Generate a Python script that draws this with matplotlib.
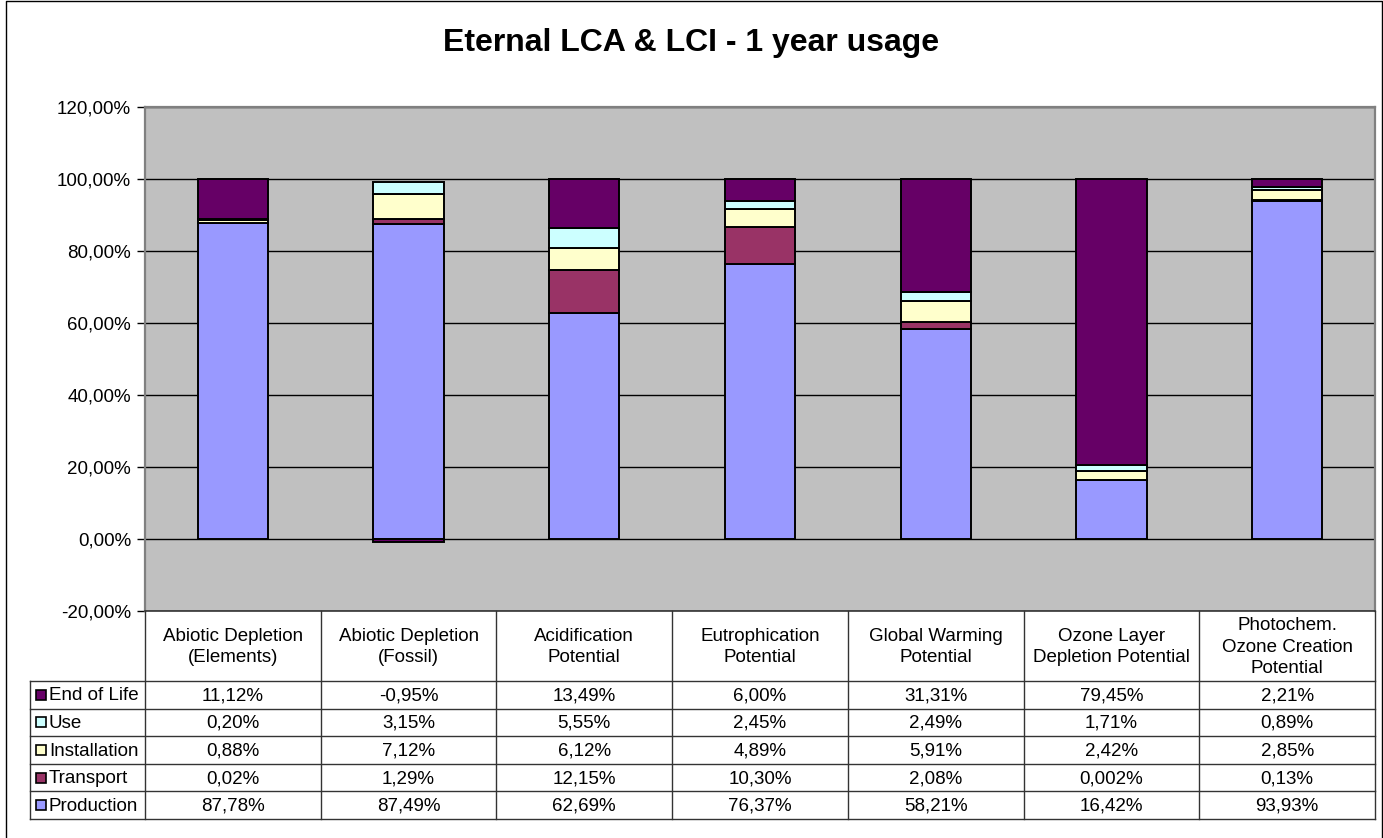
import numpy as np
import matplotlib
matplotlib.use("Agg")
import matplotlib.pyplot as plt
from matplotlib.patches import Rectangle

plt.rcParams['font.family'] = ['Liberation Sans', 'DejaVu Sans']

categories = ["Abiotic Depletion\n(Elements)", "Abiotic Depletion\n(Fossil)",
              "Acidification\nPotential", "Eutrophication\nPotential",
              "Global Warming\nPotential", "Ozone Layer\nDepletion Potential",
              "Photochem.\nOzone Creation\nPotential"]
production   = [87.78, 87.49, 62.69, 76.37, 58.21, 16.42, 93.93]
transport    = [0.02, 1.29, 12.15, 10.30, 2.08, 0.002, 0.13]
installation = [0.88, 7.12, 6.12, 4.89, 5.91, 2.42, 2.85]
use          = [0.20, 3.15, 5.55, 2.45, 2.49, 1.71, 0.89]
end_of_life  = [11.12, -0.95, 13.49, 6.00, 31.31, 79.45, 2.21]
yticks = [-20, 0, 20, 40, 60, 80, 100, 120]

series_names = ["Production", "Transport", "Installation", "Use", "End of Life"]
series_vals = [production, transport, installation, use, end_of_life]
colors = ["#9999FF", "#993366", "#FFFFCC", "#CCFFFF", "#660066"]

W, H = 1383, 838
fig = plt.figure(figsize=(W / 100, H / 100), dpi=100)
fig.patch.set_facecolor("white")

FS = 13.5

# layout (pixels)
PL, PR, PT, PB = 145, 1375, 107, 611
HDR_B = 681
ROW_H = (819 - 681) / 5
LEG_L = 30

ax = fig.add_axes([PL / W, 1 - PB / H, (PR - PL) / W, (PB - PT) / H])
ax.set_facecolor("#C0C0C0")
x = np.arange(len(categories))
ax.set_xlim(-0.5, len(categories) - 0.5)
ax.set_ylim(-20, 120)
for yv in yticks:
    ax.axhline(yv, color="black", lw=1.0, zorder=1)

pos_bottom = np.zeros(len(categories))
neg_bottom = np.zeros(len(categories))
for name, vals, c in zip(series_names, series_vals, colors):
    v = np.array(vals, dtype=float)
    bottoms = np.where(v >= 0, pos_bottom, neg_bottom)
    ax.bar(x, v, width=0.4, bottom=bottoms, color=c, edgecolor="black",
           linewidth=1.4, zorder=3)
    pos_bottom += np.where(v >= 0, v, 0)
    neg_bottom += np.where(v < 0, v, 0)

ax.set_xticks([])
ax.set_yticks(yticks)
ax.set_yticklabels([f"{v:.2f}%".replace(".", ",") for v in yticks], fontsize=FS)
ax.tick_params(axis="y", direction="out", length=6, width=1, color="black", pad=4)
for s in ["left", "top", "right"]:
    ax.spines[s].set_color("#808080")
    ax.spines[s].set_linewidth(1.6)
ax.spines["bottom"].set_color("#333333")
ax.spines["bottom"].set_linewidth(1.2)

fig.text(0.5, 1 - 43 / H, "Eternal LCA & LCI - 1 year usage", ha="center",
         va="center", fontsize=23, fontweight="bold")

# table overlay in pixel coordinates
tax = fig.add_axes([0, 0, 1, 1])
tax.set_xlim(0, W)
tax.set_ylim(H, 0)
tax.axis("off")
tax.patch.set_alpha(0)

ncol = len(categories)
colw = (PR - PL) / ncol
edges = PL + np.arange(ncol + 1) * colw
lc = "#333333"
for e in edges:
    tax.plot([e, e], [PB, 819], color=lc, lw=1.0)
tax.plot([LEG_L, LEG_L], [HDR_B, 819], color=lc, lw=1.0)
for i in range(6):
    yy = HDR_B + i * ROW_H
    tax.plot([LEG_L, PR], [yy, yy], color=lc, lw=1.0)

for i, cat in enumerate(categories):
    tax.text((edges[i] + edges[i + 1]) / 2, (PB + HDR_B) / 2 + 1, cat,
             ha="center", va="center", fontsize=FS, linespacing=1.38)


def fmt(v):
    if v != 0 and abs(v) < 0.01:
        s = f"{v:.3f}%"
    else:
        s = f"{v:.2f}%"
    return s.replace(".", ",")


rows_top_down = list(zip(series_names, series_vals, colors))[::-1]
for r, (name, vals, c) in enumerate(rows_top_down):
    yc = HDR_B + (r + 0.5) * ROW_H
    tax.add_patch(Rectangle((LEG_L + 6, yc - 5), 10, 10, facecolor=c,
                            edgecolor="black", lw=1.2))
    tax.text(LEG_L + 19, yc + 1, name, ha="left", va="center", fontsize=FS)
    for i, v in enumerate(vals):
        tax.text((edges[i] + edges[i + 1]) / 2, yc + 1, fmt(v), ha="center",
                 va="center", fontsize=FS)

# outer chart border
tax.plot([6, 6, 1382, 1382], [840, 1, 1, 840], color="black", lw=1.0)

fig.savefig("out.png", dpi=100)
